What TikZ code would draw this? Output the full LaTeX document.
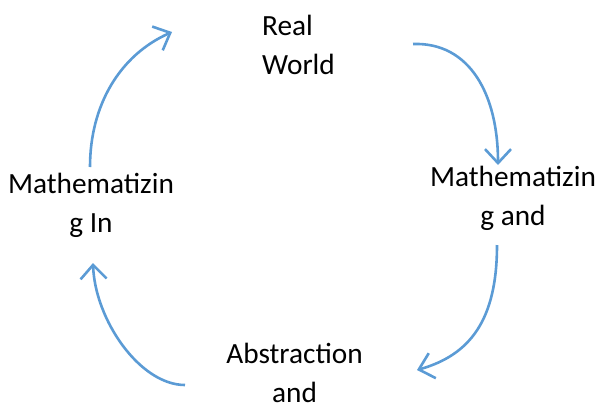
\documentclass[tikz,border=0pt]{standalone}
\usepackage{fontspec}
\setmainfont{Carlito}
\usetikzlibrary{arrows.meta}
\definecolor{cloop}{HTML}{5B9BD5}

\begin{document}
\begin{tikzpicture}[x=1pt,y=-1pt,
  lbl/.style={inner sep=0pt,font=\fontsize{29.3}{38.5}\selectfont},
  loop/.style={draw=cloop,line width=2.6pt,
               -{Straight Barb[length=14pt,width=26pt]}}]
\useasboundingbox (0,0) rectangle (600,405);
\node[lbl,align=left,anchor=base west] (real) at (262,74) {Real\\World};
\node[lbl,align=center,anchor=base] (mright) at (513,225) {Mathematizin\\g and};
\node[lbl,align=center,anchor=base] (abstr) at (294.5,402) {Abstraction\\and};
\node[lbl,align=center,anchor=base] (mleft) at (91,232) {Mathematizin\\g In};
% arrow ends
\coordinate (a1) at (90,167);  \coordinate (b1) at (172,32);
\coordinate (a2) at (413,44);  \coordinate (b2) at (498,165);
\coordinate (a3) at (497,245); \coordinate (b3) at (417,370);
\coordinate (a4) at (185,385); \coordinate (b4) at (93,263);
\path[loop] (a1) .. controls (90,105) and (120,55) .. (b1);
\path[loop] (a2) .. controls (470,42) and (498,95) .. (b2);
\path[loop] (a3) .. controls (497,320) and (470,355) .. (b3);
\path[loop] (a4) .. controls (140,385) and (95,320) .. (b4);
\end{tikzpicture}
\end{document}
